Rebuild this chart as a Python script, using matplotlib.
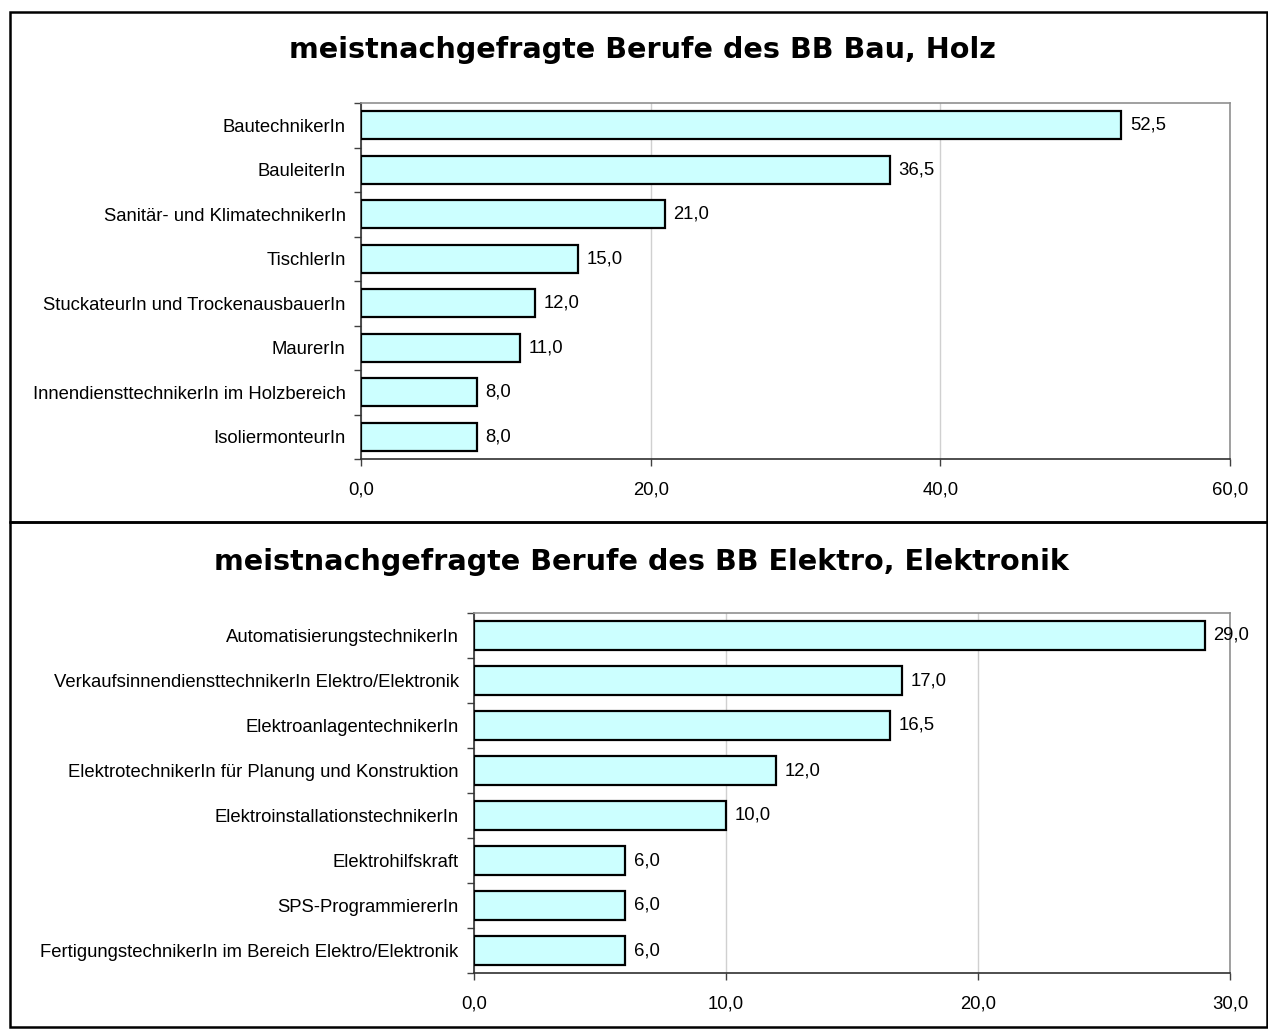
import matplotlib.pyplot as plt
from matplotlib.patches import Rectangle
import numpy as np

# data
bau_labels = ['BautechnikerIn', 'BauleiterIn', 'Sanitär- und KlimatechnikerIn', 'TischlerIn',
              'StuckateurIn und TrockenausbauerIn', 'MaurerIn',
              'InnendiensttechnikerIn im Holzbereich', 'IsoliermonteurIn']
bau_values = [52.5, 36.5, 21.0, 15.0, 12.0, 11.0, 8.0, 8.0]

elek_labels = ['AutomatisierungstechnikerIn', 'VerkaufsinnendiensttechnikerIn Elektro/Elektronik',
               'ElektroanlagentechnikerIn', 'ElektrotechnikerIn für Planung und Konstruktion',
               'ElektroinstallationstechnikerIn', 'Elektrohilfskraft', 'SPS-ProgrammiererIn',
               'FertigungstechnikerIn im Bereich Elektro/Elektronik']
elek_values = [29.0, 17.0, 16.5, 12.0, 10.0, 6.0, 6.0, 6.0]

plt.rcParams['font.family'] = ['Liberation Sans', 'DejaVu Sans']

W, H = 1268, 1030
fig = plt.figure(figsize=(W / 100, H / 100), dpi=100)

def fx(px):
    return px / W

def fy(py):
    return 1 - py / H

# panel frames
for (top, bot) in [(12, 522), (522, 1027)]:
    fig.patches.append(Rectangle((fx(10), fy(bot)), fx(1267) - fx(10), fy(top) - fy(bot),
                                 transform=fig.transFigure, fill=False, ec='black', lw=1.8))

def fmt(v):
    return ('%.1f' % v).replace('.', ',')

def draw(ax, labels, values, xmax, step, bh):
    n = len(labels)
    y = np.arange(n)
    ax.barh(y, values, height=bh, color='#CCFFFF', edgecolor='black', linewidth=1.6, zorder=3)
    ax.set_ylim(n - 0.5, -0.5)
    ax.set_xlim(0, xmax)
    ax.set_yticks(y)
    ax.set_yticklabels(labels, fontsize=13.3)
    ax.set_yticks(np.arange(n + 1) - 0.5, minor=True)
    ax.tick_params(axis='y', which='major', length=0, pad=11)
    ax.tick_params(axis='y', which='minor', length=5, width=1, color='#404040')
    ticks = np.arange(0, xmax + step / 2, step)
    ax.set_xticks(ticks)
    ax.set_xticklabels([fmt(t) for t in ticks], fontsize=13.3)
    ax.tick_params(axis='x', length=5, width=1, color='#404040', pad=11)
    ax.xaxis.grid(True, color='#d0d0d0', lw=1, zorder=0)
    ax.spines['top'].set_color('#909090')
    ax.spines['right'].set_color('#909090')
    ax.spines['left'].set_color('#303030')
    ax.spines['bottom'].set_color('#303030')
    for s in ax.spines.values():
        s.set_linewidth(1.2)
    for yi, v in zip(y, values):
        ax.annotate(fmt(v), (v, yi), xytext=(6, 0), textcoords='offset points',
                    va='center', ha='left', fontsize=13.3, zorder=4)

ax1 = fig.add_axes([fx(361), fy(459), fx(1230) - fx(361), fy(103) - fy(459)])
draw(ax1, bau_labels, bau_values, 60, 20, 0.63)
ax2 = fig.add_axes([fx(474), fy(973), fx(1230) - fx(474), fy(613) - fy(973)])
draw(ax2, elek_labels, elek_values, 30, 10, 0.66)

fig.text(fx(642), fy(50), 'meistnachgefragte Berufe des BB Bau, Holz', ha='center', va='center',
         fontsize=20.6, fontweight='bold', family='DejaVu Sans')
fig.text(fx(641), fy(562), 'meistnachgefragte Berufe des BB Elektro, Elektronik', ha='center',
         va='center', fontsize=20.6, fontweight='bold', family='DejaVu Sans')

fig.savefig('out.png', dpi=100)
